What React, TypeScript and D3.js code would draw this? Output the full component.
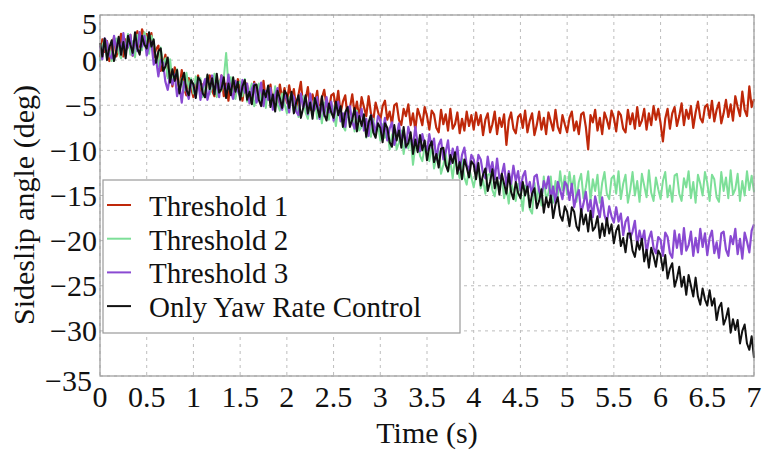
import React from "react";
import * as d3 from "d3";

const timeStep = 0.025;
const xTicks = [0, 0.5, 1, 1.5, 2, 2.5, 3, 3.5, 4, 4.5, 5, 5.5, 6, 6.5, 7];
const yTicks = [5, 0, -5, -10, -15, -20, -25, -30, -35];
const seriesNames = ["Threshold 1", "Threshold 2", "Threshold 3", "Only Yaw Rate Control"];
const seriesColors = ["#bf280a", "#7ddf98", "#8a4ad2", "#111111"];

const threshold1 = [
  0.3, 2.3, 0.9, 2.1, -0.1, 1.7, 2.5, 0.4, 1.4, 2.9, 0.4, 2.3, 1.4, 2.8, 0.5, 2.3, 3.2, 1.5, 3.4, 2.6,
  2.9, 1.3, 3.0, 0.3, 1.2, 1.6, -1.2, -0.5, 0.6, -1.8, -0.8, -2.9, -0.8, -2.0, -3.2, -1.1, -3.1, -3.9, -2.0, -3.1,
  -4.1, -2.5, -1.7, -3.8, -2.7, -4.1, -1.9, -1.7, -3.4, -4.0, -2.2, -3.0, -1.7, -4.0, -2.6, -4.5, -2.1, -3.0, -4.0, -2.1,
  -3.0, -4.5, -2.4, -2.8, -4.4, -4.8, -2.4, -4.0, -2.8, -4.7, -2.3, -4.5, -4.0, -2.7, -5.1, -3.4, -4.7, -2.7, -4.3, -3.1,
  -4.7, -2.8, -4.3, -3.2, -5.4, -3.8, -2.4, -5.2, -4.4, -3.0, -5.5, -3.8, -4.8, -3.4, -5.9, -4.2, -3.3, -5.1, -5.7, -3.9,
  -3.7, -5.3, -3.4, -5.9, -4.6, -3.9, -6.3, -5.3, -3.8, -5.9, -4.6, -6.5, -4.1, -5.2, -6.2, -4.0, -5.9, -6.7, -4.7, -5.7,
  -6.7, -5.1, -4.5, -6.6, -5.7, -7.1, -5.0, -4.8, -6.6, -7.2, -5.4, -6.2, -4.9, -7.2, -5.9, -7.7, -5.4, -6.2, -7.2, -5.2,
  -6.2, -7.7, -5.6, -6.0, -7.5, -8.0, -5.5, -7.1, -6.0, -7.8, -5.4, -7.6, -7.1, -5.8, -8.1, -6.5, -7.8, -5.7, -7.3, -6.1,
  -7.7, -5.8, -7.2, -6.1, -8.3, -6.6, -5.9, -8.0, -7.1, -5.7, -8.2, -6.4, -7.4, -6.0, -9.4, -6.7, -5.8, -7.6, -8.1, -6.3,
  -6.0, -7.5, -5.6, -8.0, -6.7, -5.9, -8.3, -7.2, -5.7, -7.7, -6.4, -8.2, -5.8, -6.8, -7.8, -5.5, -7.4, -8.1, -6.1, -7.1,
  -8.0, -6.4, -5.7, -7.8, -6.8, -8.2, -6.0, -5.8, -7.4, -9.9, -6.1, -6.9, -5.5, -7.8, -6.4, -8.2, -5.8, -6.6, -7.6, -5.6,
  -6.4, -7.9, -5.7, -6.1, -7.6, -8.0, -5.5, -7.1, -5.9, -7.6, -5.2, -7.3, -6.7, -5.4, -7.7, -5.9, -7.2, -5.1, -6.6, -5.4,
  -7.0, -9.0, -6.5, -5.4, -7.6, -5.9, -5.2, -7.3, -6.2, -4.8, -7.2, -5.5, -6.5, -5.1, -7.5, -5.8, -4.6, -6.4, -6.9, -5.2,
  -4.9, -6.4, -4.5, -6.8, -5.5, -4.7, -7.0, -5.9, -4.4, -6.3, -4.9, -6.7, -4.0, -5.2, -6.2, -3.5, -5.5, -6.2, -2.9, -5.2,
  -4.3,
];

const threshold2 = [
  -0.1, 1.6, 2.3, 0.2, 1.3, -0.1, 2.2, 2.4, 0.8, 0.2, 2.2, 1.4, 2.9, 0.6, 2.1, 0.3, 2.8, 2.0, 1.1, 3.1,
  2.3, 0.7, 2.7, 2.0, 0.1, -0.7, 1.4, -0.6, 0.2, -2.0, 0.1, -2.3, -2.1, -1.0, -3.5, -2.0, -3.4, -1.4, -3.1, -2.0,
  -3.7, -1.8, -3.1, -2.0, -4.1, -2.4, -1.7, -3.8, -2.9, -1.5, -4.1, -2.3, -3.4, -2.0, 0.8, -2.8, -1.9, -3.8, -4.3, -2.6,
  -2.4, -4.0, -2.1, -4.6, -3.4, -2.6, -5.1, -4.1, -2.6, -4.7, -3.5, -5.3, -3.0, -4.1, -5.1, -2.9, -4.9, -5.6, -3.7, -4.8,
  -5.9, -4.3, -3.7, -5.8, -4.9, -6.3, -4.2, -4.0, -5.8, -6.5, -4.6, -5.5, -4.2, -6.5, -5.2, -7.0, -4.7, -5.6, -6.6, -4.7,
  -5.7, -7.3, -5.2, -5.7, -7.3, -7.8, -5.4, -7.1, -6.0, -7.9, -5.6, -7.8, -7.4, -6.2, -8.6, -7.0, -8.5, -6.5, -8.2, -7.1,
  -8.9, -7.1, -8.6, -7.6, -9.9, -8.3, -7.7, -9.9, -9.1, -7.8, -10.4, -8.7, -9.8, -8.6, -11.6, -9.5, -8.7, -10.6, -11.2, -9.6,
  -9.6, -11.2, -9.4, -12.0, -10.8, -10.1, -12.6, -11.6, -10.3, -12.4, -11.2, -13.1, -10.9, -12.0, -13.1, -10.9, -13.0, -13.8, -11.9, -13.0,
  -14.1, -12.6, -12.0, -14.2, -13.3, -14.8, -12.7, -12.6, -14.4, -15.1, -13.3, -14.2, -12.9, -15.3, -14.0, -15.9, -13.6, -14.5, -15.6, -13.7,
  -14.6, -16.7, -13.9, -14.5, -16.5, -17.0, -13.6, -15.6, -14.0, -16.1, -12.9, -15.4, -14.7, -12.9, -15.8, -13.4, -15.1, -12.3, -14.4, -12.8,
  -14.9, -12.4, -14.3, -12.8, -15.7, -13.5, -12.6, -15.3, -14.1, -12.3, -15.6, -13.2, -14.5, -12.7, -15.8, -13.6, -12.4, -14.8, -15.4, -13.1,
  -12.8, -14.8, -12.3, -15.4, -13.7, -12.7, -15.8, -14.4, -12.4, -15.0, -13.4, -15.7, -12.6, -13.9, -15.2, -12.2, -14.7, -15.6, -13.0, -14.3,
  -15.4, -13.4, -12.4, -15.2, -13.9, -15.7, -12.8, -12.6, -14.8, -15.6, -13.1, -14.1, -12.3, -15.3, -13.5, -15.8, -12.7, -13.7, -15.0, -12.4,
  -13.6, -15.6, -12.7, -13.2, -15.2, -15.7, -12.4, -14.5, -13.0, -15.3, -12.2, -14.9, -14.3, -12.6, -15.6, -13.4, -15.0, -12.3, -14.4, -12.8,
  -14.6,
];

const threshold3 = [
  1.6, 0.1, 2.4, 2.0, 0.5, 0.2, 2.7, 1.1, 2.4, 0.6, 3.0, 1.0, 1.5, 2.8, 0.5, 2.3, 1.0, 3.1, 1.5, 2.7,
  0.5, 1.7, 2.0, -0.5, 0.1, -1.8, 0.0, -0.3, -2.4, -3.3, -1.7, -2.7, -1.6, -4.0, -2.7, -4.7, -2.4, -3.3, -4.3, -2.4,
  -2.7, -4.1, -2.1, -4.4, -3.0, -2.1, -4.4, -3.3, -1.7, -3.7, -2.3, -4.1, -1.7, -2.8, -3.8, -1.6, -3.5, -4.3, -2.3, -3.4,
  -4.0, -2.2, -3.6, -2.6, -4.8, -3.2, -2.6, -4.7, -3.9, -2.5, -5.1, -3.4, -4.4, -3.1, -5.5, -3.9, -3.1, -4.9, -5.5, -3.8,
  -4.3, -5.8, -3.7, -4.1, -5.7, -6.1, -3.7, -5.3, -4.2, -6.0, -3.7, -5.8, -5.4, -4.1, -6.5, -4.8, -6.2, -4.1, -5.8, -4.6,
  -6.7, -5.2, -4.6, -6.8, -5.9, -7.4, -5.3, -5.1, -6.9, -7.6, -5.8, -6.7, -5.4, -7.8, -6.5, -8.4, -6.1, -7.0, -8.1, -6.2,
  -6.6, -8.2, -6.4, -8.9, -7.6, -6.9, -9.4, -8.4, -7.0, -9.1, -7.8, -9.7, -7.4, -8.5, -9.6, -7.4, -9.3, -10.1, -8.2, -9.3,
  -10.0, -8.2, -9.7, -8.7, -11.0, -9.4, -8.8, -11.0, -10.2, -8.9, -11.5, -9.8, -10.9, -9.6, -12.1, -10.5, -9.7, -11.6, -12.2, -10.5,
  -11.0, -12.6, -10.5, -11.0, -12.6, -13.1, -10.7, -12.4, -11.3, -13.2, -10.9, -13.1, -12.7, -11.5, -13.9, -12.3, -13.7, -11.7, -13.4, -12.3,
  -14.4, -12.9, -12.3, -14.4, -13.5, -15.0, -12.9, -12.7, -14.5, -15.2, -13.4, -14.2, -12.9, -15.3, -14.0, -15.8, -13.5, -14.4, -15.4, -13.5,
  -13.9, -15.5, -13.7, -16.3, -15.1, -14.4, -16.9, -15.9, -14.6, -16.7, -15.5, -17.4, -15.1, -16.3, -17.4, -15.2, -17.2, -18.0, -16.2, -17.3,
  -18.0, -16.3, -17.9, -17.0, -19.4, -17.9, -17.4, -19.7, -19.0, -17.8, -20.5, -18.9, -20.1, -18.9, -21.4, -19.8, -19.0, -20.8, -21.4, -19.6,
  -19.9, -21.7, -19.1, -19.6, -21.4, -21.9, -18.9, -20.8, -19.3, -21.5, -18.6, -21.1, -20.5, -19.0, -21.7, -19.7, -21.3, -18.7, -20.7, -19.2,
  -21.6, -19.7, -18.9, -21.4, -20.2, -21.9, -19.2, -19.0, -21.0, -21.7, -19.5, -20.4, -18.7, -21.5, -19.8, -22.0, -19.1, -20.1, -21.3, -18.9,
  -18.2,
];

const onlyYawRate = [
  1.9, 0.4, 2.4, 0.0, 1.4, 2.2, -0.1, 1.0, 2.6, 0.6, 2.0, 0.2, 2.7, 1.7, 0.8, 3.1, 1.3, 0.6, 2.7, 1.7,
  1.3, 3.1, 1.5, 2.3, -0.3, 1.0, 1.3, -1.2, -0.7, 0.3, -2.5, -1.0, -2.3, -1.1, -3.7, -2.2, -1.4, -3.3, -3.9, -2.2,
  -2.7, -4.2, -1.9, -2.3, -3.7, -4.1, -1.6, -3.2, -2.0, -3.8, -1.5, -3.6, -3.2, -1.9, -4.2, -2.6, -3.9, -1.9, -3.5, -2.4,
  -4.4, -2.9, -2.2, -4.4, -3.5, -4.9, -2.8, -2.7, -4.4, -5.1, -3.3, -4.1, -2.8, -5.2, -3.8, -5.7, -3.4, -4.2, -5.3, -3.4,
  -3.8, -5.3, -3.5, -5.9, -4.7, -3.9, -6.4, -5.3, -3.9, -5.9, -4.7, -6.5, -4.2, -5.2, -6.3, -4.0, -6.0, -6.7, -4.8, -5.8,
  -6.4, -4.6, -6.1, -5.1, -7.4, -5.8, -5.2, -7.4, -6.6, -5.3, -7.9, -6.2, -7.3, -6.0, -8.5, -6.9, -6.1, -8.0, -8.6, -7.0,
  -7.5, -9.1, -7.0, -7.5, -9.1, -9.6, -7.2, -8.9, -7.8, -9.7, -7.4, -9.6, -9.2, -8.0, -10.4, -8.8, -10.2, -8.3, -10.0, -8.9,
  -11.1, -9.6, -9.0, -11.3, -10.4, -11.9, -9.8, -9.7, -11.6, -12.3, -10.5, -11.4, -10.2, -12.6, -11.3, -13.2, -11.0, -11.9, -13.0, -11.2,
  -11.6, -13.2, -11.4, -13.9, -12.7, -12.0, -14.5, -13.5, -12.1, -14.2, -13.0, -14.9, -12.6, -13.7, -14.8, -12.6, -14.6, -15.4, -13.5, -14.7,
  -15.3, -13.5, -15.0, -14.0, -16.3, -14.8, -14.2, -16.4, -15.6, -14.3, -16.9, -15.2, -16.3, -15.0, -17.5, -16.0, -15.2, -17.2, -17.8, -16.2,
  -16.8, -18.4, -16.3, -16.8, -18.4, -18.9, -16.5, -18.2, -17.1, -19.0, -16.7, -18.9, -18.5, -17.3, -19.7, -18.1, -19.5, -17.5, -19.2, -18.2,
  -20.3, -18.9, -18.3, -20.6, -19.7, -21.3, -19.2, -19.2, -21.1, -21.8, -20.1, -21.0, -19.8, -22.3, -21.0, -23.0, -20.8, -21.7, -22.9, -21.1,
  -21.6, -23.3, -21.6, -24.2, -23.1, -22.5, -25.1, -24.2, -22.9, -25.1, -24.0, -26.0, -23.8, -25.0, -26.2, -24.1, -26.2, -27.1, -25.3, -26.5,
  -27.2, -25.5, -27.2, -26.4, -28.8, -27.4, -26.9, -29.3, -28.6, -27.5, -30.2, -28.7, -29.9, -28.8, -31.4, -30.0, -29.3, -31.4, -32.1, -30.6,
  -33.0,
];

const allSeries = [threshold1, threshold2, threshold3, onlyYawRate];
const strokeWidths = [2.2, 2.0, 2.2, 2.0];

const W = 763;
const H = 454;
const left = 100;
const right = 754;
const top = 15;
const bottom = 376;
const FONT = "'Liberation Serif', 'Times New Roman', serif";

export default function App() {
  const x = d3.scaleLinear().domain([0, 7]).range([left, right]);
  const y = d3.scaleLinear().domain([-35, 5]).range([bottom, top]);
  const line = d3
    .line<number>()
    .x((_, i) => x(i * timeStep))
    .y((d) => y(d));

  const fmt = (v: number) => (v < 0 ? "\u2212" + Math.abs(v) : String(v));

  return (
    <svg
      width={W}
      height={H}
      style={{ position: "absolute", left: 0, top: 0, background: "#fff" }}
      fontFamily={FONT}
    >
      <rect x={0} y={0} width={W} height={H} fill="#fff" />
      {xTicks.map((t) => (
        <line
          key={"gx" + t}
          x1={x(t)}
          x2={x(t)}
          y1={top}
          y2={bottom}
          stroke="#bdbdbd"
          strokeWidth={1}
          strokeDasharray="3,4"
        />
      ))}
      {yTicks.map((t) => (
        <line
          key={"gy" + t}
          x1={left}
          x2={right}
          y1={y(t)}
          y2={y(t)}
          stroke="#bdbdbd"
          strokeWidth={1}
          strokeDasharray="3,4"
        />
      ))}
      {allSeries.map((s, i) => (
        <path
          key={"s" + i}
          d={line(s) || ""}
          fill="none"
          stroke={seriesColors[i]}
          strokeWidth={strokeWidths[i]}
          strokeLinejoin="round"
        />
      ))}
      <rect
        x={left}
        y={top}
        width={right - left}
        height={bottom - top}
        fill="none"
        stroke="#9a9a9a"
        strokeWidth={1.2}
      />
      {yTicks.map((t) => (
        <text
          key={"ty" + t}
          x={t === -35 ? 92 : 97}
          y={t === 5 ? y(t) + 8 : t === -35 ? y(t) + 4 : y(t)}
          textAnchor="end"
          dominantBaseline="central"
          fontSize={30}
          fill="#111"
        >
          {fmt(t)}
        </text>
      ))}
      {xTicks.map((t) => (
        <text
          key={"tx" + t}
          x={x(t)}
          y={407}
          textAnchor="middle"
          fontSize={30}
          fill="#111"
        >
          {String(t)}
        </text>
      ))}
      <text x={427} y={443} textAnchor="middle" fontSize={30} fill="#111">
        Time (s)
      </text>
      <text
        transform={`translate(34, 205) rotate(-90)`}
        textAnchor="middle"
        fontSize={30}
        fill="#111"
      >
        Sideslip angle (deg)
      </text>
      <rect x={103} y={180} width={357} height={153} fill="#fff" stroke="#9a9a9a" strokeWidth={1.2} />
      {seriesNames.map((name, i) => {
        const ly = 216 + i * 33.7;
        return (
          <g key={"lg" + i}>
            <line x1={107} x2={131} y1={ly - 11} y2={ly - 11} stroke={seriesColors[i]} strokeWidth={2} />
            <text x={149} y={ly} fontSize={29} fill="#111">
              {name}
            </text>
          </g>
        );
      })}
    </svg>
  );
}
